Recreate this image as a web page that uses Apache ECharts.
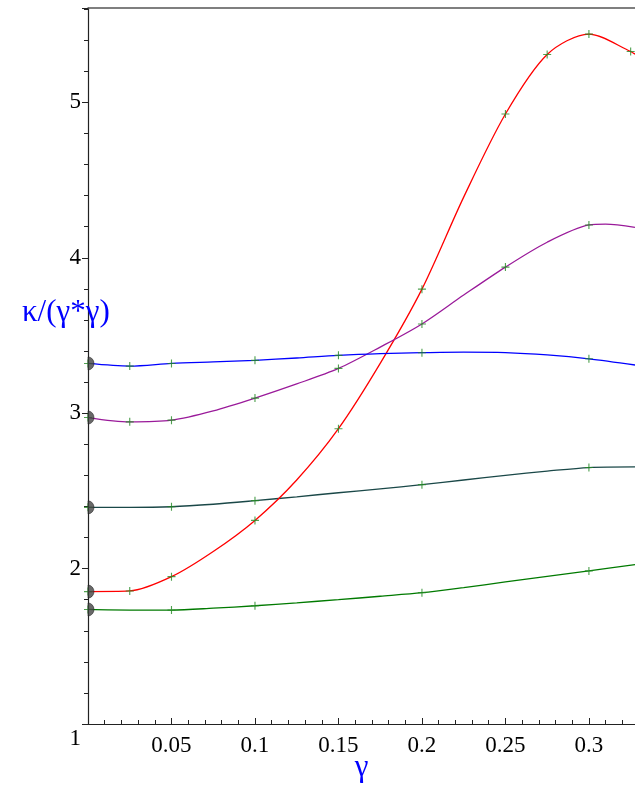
<!DOCTYPE html>
<html>
<head>
<meta charset="utf-8">
<script src="https://cdn.jsdelivr.net/npm/echarts@6/dist/echarts.min.js"></script>
<style>
html,body{margin:0;padding:0;background:#fff;}
#chart{width:635px;height:785px;}
</style>
</head>
<body>
<div id="chart"></div>
<script>
// x values (gamma) and y values (kappa/(gamma*gamma))
const blueX   = [0, 0.025, 0.05, 0.075, 0.1, 0.125, 0.15, 0.175, 0.2, 0.225, 0.25, 0.275, 0.3, 0.3276];
const blueY   = [3.32, 3.303, 3.32, 3.33, 3.34, 3.355, 3.372, 3.383, 3.389, 3.393, 3.39, 3.375, 3.35, 3.31];
const blueMarks = [0, 0.025, 0.05, 0.1, 0.15, 0.2, 0.3];

const purpleX = [0, 0.025, 0.05, 0.075, 0.1, 0.125, 0.15, 0.175, 0.2, 0.225, 0.25, 0.275, 0.3, 0.31, 0.3276];
const purpleY = [2.972, 2.944, 2.955, 3.015, 3.097, 3.188, 3.288, 3.425, 3.574, 3.76, 3.94, 4.10, 4.211, 4.217, 4.196];
const purpleMarks = [0, 0.025, 0.05, 0.1, 0.15, 0.2, 0.25, 0.3];

const redX    = [0, 0.025, 0.05, 0.075, 0.1, 0.125, 0.15, 0.175, 0.2, 0.225, 0.25, 0.275, 0.3, 0.325, 0.3276];
const redY    = [1.852, 1.856, 1.948, 2.11, 2.31, 2.57, 2.90, 3.32, 3.798, 4.39, 4.925, 5.308, 5.439, 5.327, 5.31];
const redMarks = [0, 0.025, 0.05, 0.1, 0.15, 0.2, 0.25, 0.275, 0.3, 0.325];

const tealX   = [0, 0.025, 0.05, 0.075, 0.1, 0.125, 0.15, 0.175, 0.2, 0.225, 0.25, 0.275, 0.3, 0.3276];
const tealY   = [2.394, 2.394, 2.398, 2.414, 2.437, 2.462, 2.488, 2.513, 2.54, 2.57, 2.60, 2.627, 2.65, 2.654];
const tealMarks = [0, 0.05, 0.1, 0.2, 0.3];

const greenX  = [0, 0.025, 0.05, 0.075, 0.1, 0.125, 0.15, 0.175, 0.2, 0.225, 0.25, 0.275, 0.3, 0.3276];
const greenY  = [1.737, 1.733, 1.733, 1.745, 1.761, 1.78, 1.80, 1.822, 1.845, 1.878, 1.914, 1.95, 1.985, 2.026];
const greenMarks = [0, 0.05, 0.1, 0.2, 0.3];

const xTicks = [0.05, 0.1, 0.15, 0.2, 0.25, 0.3];
const yTicks = [1, 2, 3, 4, 5];

const curves = [
  {x: greenX, y: greenY, marks: greenMarks, color: '#007a00'},
  {x: tealX, y: tealY, marks: tealMarks, color: '#1a4848'},
  {x: redX, y: redY, marks: redMarks, color: '#ff0000'},
  {x: purpleX, y: purpleY, marks: purpleMarks, color: '#9a1a9a'},
  {x: blueX, y: blueY, marks: blueMarks, color: '#0000ff'}
];

const FONT = '"Liberation Serif", "DejaVu Serif", serif';
const plusPath = 'path://M-0.14,-1H0.14V-0.14H1V0.14H0.14V1H-0.14V0.14H-1V-0.14H-0.14Z';
const halfCircle = 'path://M0,-1A1,1 0 0,1 0,1Z';

const series = [];
curves.forEach(c => {
  const pts = c.x.map((v, i) => [v, c.y[i]]);
  series.push({
    type: 'line', data: pts, smooth: 0.3, showSymbol: false, symbol: 'none',
    lineStyle: {color: c.color, width: 1.3}, z: 2, silent: true
  });
});
curves.forEach(c => {
  const pts = c.x.map((v, i) => [v, c.y[i]]).filter(p => c.marks.indexOf(p[0]) >= 0);
  series.push({
    type: 'scatter', data: pts, symbol: plusPath, symbolSize: 8,
    itemStyle: {color: '#238a23'}, z: 4, silent: true
  });
});
series.push({
  type: 'scatter',
  data: curves.map(c => [c.x[0], c.y[0]]),
  symbol: halfCircle, symbolSize: [6, 13], symbolOffset: [3, 0],
  itemStyle: {color: '#444444', borderColor: '#1a1a1a', borderWidth: 0.6},
  z: 5, silent: true
});

const chart = echarts.init(document.getElementById('chart'), null, {renderer: 'canvas'});
chart.setOption({
  animation: false,
  backgroundColor: '#ffffff',
  title: {
    text: 'κ/(γ*γ)', left: 17, top: 292,
    textStyle: {fontFamily: FONT, fontSize: 31, fontWeight: 'normal', color: '#0000ff'}
  },
  grid: {left: 88, right: 0, top: 8, bottom: 61, containLabel: false, outerBoundsMode: 'none'},
  xAxis: [{
    type: 'value', min: 0, max: 0.3276, interval: 0.05,
    name: 'γ', nameLocation: 'middle', nameGap: 28, nameMoveOverlap: false,
    nameTextStyle: {fontFamily: FONT, fontSize: 31, color: '#0000ff', verticalAlign: 'top'},
    axisLine: {show: true, onZero: false, lineStyle: {color: '#222', width: 1.2}},
    axisTick: {show: true, inside: true, length: 6, lineStyle: {color: '#222'}},
    minorTick: {show: true, splitNumber: 5, length: 4, lineStyle: {color: '#222'}},
    splitLine: {show: false},
    axisLabel: {
      showMinLabel: false, showMaxLabel: false, margin: 10,
      fontFamily: FONT, fontSize: 23, color: '#000',
      formatter: v => (xTicks.some(t => Math.abs(t - v) < 1e-9) ? String(+v.toFixed(2)) : '')
    }
  }, {
    type: 'value', position: 'top', min: 0, max: 0.3276,
    axisLine: {show: true, onZero: false, lineStyle: {color: '#555', width: 1.5}},
    axisTick: {show: false}, axisLabel: {show: false}, splitLine: {show: false}
  }],
  yAxis: {
    type: 'value', min: 1, max: 5.607, interval: 1,
    axisLine: {show: true, onZero: false, lineStyle: {color: '#222', width: 1.2}},
    axisTick: {show: true, inside: false, length: 6, lineStyle: {color: '#222'}},
    minorTick: {show: true, splitNumber: 5, length: 4, lineStyle: {color: '#222'}},
    splitLine: {show: false},
    axisLabel: {
      showMaxLabel: false, margin: 7,
      fontFamily: FONT, fontSize: 23, color: '#000',
      formatter: v => {
        if (!yTicks.some(t => Math.abs(t - v) < 1e-9)) return '';
        return v === 1 ? '{o|1}' : String(v);
      },
      rich: {o: {fontFamily: FONT, fontSize: 23, color: '#000', padding: [30, 0, 0, 0]}}
    }
  },
  series: series
});
</script>
</body>
</html>
